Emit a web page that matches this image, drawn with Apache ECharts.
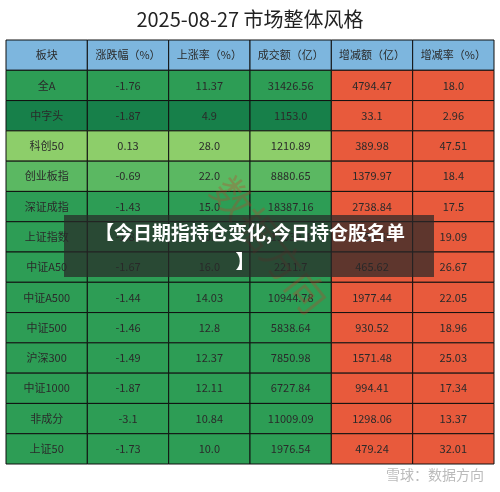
<!DOCTYPE html>
<html><head><meta charset="utf-8">
<script src="https://cdn.jsdelivr.net/npm/echarts@6/dist/echarts.min.js"></script>
<style>html,body{margin:0;padding:0;background:#fff}#c{width:500px;height:492px}</style>
</head><body><div id="c"></div>
<script>
const title = '2025-08-27 市场整体风格';
const headers = ['板块','涨跌幅（%）','上涨率（%）','成交额（亿）','增减额（亿）','增减率（%）'];
const sectors = ['全A','中字头','科创50','创业板指','深证成指','上证指数','中证A50','中证A500','中证500','沪深300','中证1000','非成分','上证50'];
const changePct = ['-1.76','-1.87','0.13','-0.69','-1.43','-1.81','-1.67','-1.44','-1.46','-1.49','-1.87','-3.1','-1.73'];
const upRate = ['11.37','4.9','28.0','22.0','15.0','10.5','16.0','14.03','12.8','12.37','12.11','10.84','10.0'];
const turnover = ['31426.56','1153.0','1210.89','8880.65','18387.16','13039.4','2211.7','10944.78','5838.64','7850.98','6727.84','11009.09','1976.54'];
const deltaAmt = ['4794.47','33.1','389.98','1379.97','2738.84','2055.63','465.62','1977.44','930.52','1571.48','994.41','1298.06','479.24'];
const deltaRate = ['18.0','2.96','47.51','18.4','17.5','19.09','26.67','22.05','18.96','25.03','17.34','13.37','32.01'];

const rowShade = {'中字头':'#17804a','科创50':'#8dce6a','创业板指':'#5bb862'};
const cols = [sectors, changePct, upRate, turnover, deltaAmt, deltaRate];
const data = [];
headers.forEach((h,c)=>data.push([c,0,h]));
sectors.forEach((s,r)=>cols.forEach((arr,c)=>data.push([c,r+1,arr[r]])));

const chart = echarts.init(document.getElementById('c'));
chart.setOption({
  animation:false,
  title:{text:title,left:'center',top:4,textStyle:{fontFamily:'Noto Sans CJK SC',fontSize:20,fontWeight:'normal',color:'#222'}},
  grid:{left:6,right:6,top:40,bottom:28},
  xAxis:{type:'category',data:[0,1,2,3,4,5],show:false},
  yAxis:{type:'category',data:[...Array(14).keys()],inverse:true,show:false},
  series:[{type:'custom',data:data,renderItem:(p,api)=>{
    const c=api.value(0), r=api.value(1);
    const pt=api.coord([c,r]); const sz=api.size([1,1]);
    let fill;
    if(r===0) fill='#7db6de';
    else if(c>=4) fill='#e85a3c';
    else fill=rowShade[sectors[r-1]]||'#2d9d55';
    return {type:'group',children:[
      {type:'rect',shape:{x:pt[0]-sz[0]/2,y:pt[1]-sz[1]/2,width:sz[0],height:sz[1]},style:{fill:fill,stroke:'#111',lineWidth:1}},
      {type:'text',x:pt[0],y:pt[1],style:{text:data[p.dataIndex][2],align:'center',verticalAlign:'middle',fontSize:11,fontFamily:'Noto Sans CJK SC',fill:'#2a2a2a'}}
    ]};
  }}],
  graphic:{elements:[
    {type:'text',z:100,x:270,y:245,rotation:-0.9,style:{text:'数据方向',fontSize:40,align:'center',verticalAlign:'middle',fill:'rgba(200,60,40,0.3)',fontFamily:'Noto Sans CJK SC'}},
    {type:'rect',z:101,shape:{x:64,y:215,width:370,height:62},style:{fill:'rgba(40,40,40,0.72)'}},
    {type:'text',z:102,x:250,y:233,style:{text:'【今日期指持仓变化,今日持仓股名单',fontSize:19,fontWeight:'bold',fill:'#fff',align:'center',verticalAlign:'middle',fontFamily:'Noto Sans CJK SC'}},
    {type:'text',z:102,x:245,y:262,style:{text:'】',fontSize:19,fontWeight:'bold',fill:'#fff',align:'center',verticalAlign:'middle',fontFamily:'Noto Sans CJK SC'}},
    {type:'text',z:100,right:16,top:468,style:{text:'雪球：数据方向',fontSize:14,fill:'#bbb',fontFamily:'Noto Sans CJK SC'}}
  ]}
});
</script></body></html>
